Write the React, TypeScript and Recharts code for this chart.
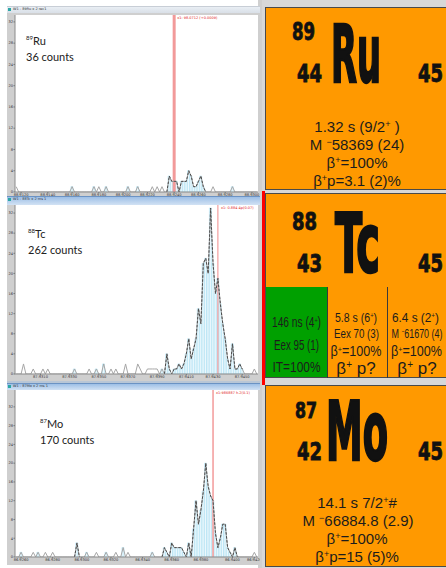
import React from 'react';
import { ComposedChart, Bar, Line, XAxis, YAxis, CartesianGrid, ReferenceLine } from 'recharts';

// ---------- data ----------
const ruCounts = [
  1,0,0,0,0,0,0,0,0,0,
  0,0,0,0,0,0,0,0,0,0,
  0,0,0,1,0,0,0,0,0,0,
  0,0,1,0,1,0,0,1,0,0,
  0,0,0,0,0,0,1,0,0,0,
  1,0,0,0,0,0,1,0,1,0,
  1,0,0,3,2,2,2,0,2,2,
  2,4,3,1,1,2,3,1,0,0,
  0,1,0,0,0,0,0,0,0,1,
  0,0,0,0,0,0,0,0,0,0,
];
const tcCounts = [
  0,0,0,2,0,0,0,1,0,0,
  0,1,0,1,0,0,0,0,0,0,
  0,0,0,0,1,0,0,0,0,0,
  1,0,0,1,0,0,2,0,0,1,
  0,1,0,0,0,2,0,0,0,0,
  2,1,0,0,1,1,1,1,1,0,
  1,0,4,1,0,1,1,2,1,2,
  4,7,3,5,7,13,10,22,23,20,
  33,22,16,19,14,10,7,3,1,6,
  1,1,2,1,0,0,0,0,1,0,
];
const moCounts = [
  0,0,1,0,0,0,0,1,0,1,
  0,0,1,0,0,1,0,0,0,0,
  0,0,0,0,0,3,0,0,0,1,
  0,0,0,1,0,0,0,1,0,0,
  0,1,0,0,2,0,1,0,0,0,
  0,0,0,0,0,0,1,0,0,0,
  0,2,1,0,3,2,2,2,2,1,
  0,3,0,6,12,7,10,14,20,15,
  13,12,5,2,4,7,7,2,1,0,
  2,0,0,0,0,0,0,0,1,0,
];

const ruDashedSpans: [number, number][] = [[62, 78]];
const tcDashedSpans: [number, number][] = [[61, 93]];
const moDashedSpans: [number, number][] = [[24, 26], [60, 92]];

const ruBlueBins = [23, 32, 37, 46, 50, 89];
const tcBlueBins = [24, 33, 36, 60];
const moBlueBins = [2, 9, 29, 37, 44, 56];

const ruMarkerBin = 65;
const tcMarkerBin = 83;
const moMarkerBin = 81;
const ruMarkerText = 'x1: 98.0712 (+0.0009)';
const tcMarkerText = 'x1: 0.884 4p(0.07)';
const moMarkerText = 'x1:986887 h.2(0.1)';

const yTicks = [0, 4, 8, 12, 16, 20, 24, 28, 32];
const ruXTicks = [2, 13, 23, 34, 44, 54, 65, 75, 86, 97];
const ruXLabels = ['88.9120', '88.9140', '88.9160', '88.9180', '88.9200', '88.9220', '88.9240', '88.9260', '88.9280', '88.9300'];
const tcXTicks = [10, 22, 34, 46, 58, 70, 81, 93];
const tcXLabels = ['87.9310', '87.9330', '87.9350', '87.9370', '87.9390', '87.9410', '87.9430', '87.9450'];
const moXTicks = [2, 15, 27, 39, 52, 64, 76, 89, 98];
const moXLabels = ['86.9260', '86.9280', '86.9300', '86.9320', '86.9340', '86.9360', '86.9380', '86.9400', '86.9420'];

// ---------- helpers ----------
function buildRows(counts: number[], spans: [number, number][], blue: number[]) {
  return counts.map((c, i) => {
    const inSpan = spans.some(([a, b]) => i >= a && i <= b);
    return { bin: i, all: c, gated: inSpan ? c : null, bar: inSpan || blue.includes(i) ? c : 0 };
  });
}

function Histogram(props: any) {
  const { data, xTicks, xLabels, yTop, marker, markerColor, markerWidth, markerText, width, height, xAxisHeight, marginTop } = props;
  return (
    <ComposedChart width={width} height={height} data={data}
      margin={{ top: marginTop, right: 2, bottom: 0, left: 0 }} barCategoryGap={0} barGap={0}>
      <CartesianGrid horizontal={false} vertical={false} fill="#ffffff" />
      <XAxis dataKey="bin" ticks={xTicks} interval={0} height={xAxisHeight} tickSize={1.5} tickMargin={0}
        tickLine={{ stroke: '#777' }} axisLine={{ stroke: '#8a8a8a' }}
        tick={{ fontSize: 3.6, fill: '#333', fontFamily: 'DejaVu Sans' }}
        tickFormatter={(v: number) => xLabels[xTicks.indexOf(v)] ?? ''} />
      <YAxis type="number" domain={[0, yTop]} ticks={yTicks} interval={0} width={8} tickSize={1.5} tickMargin={0.5}
        allowDataOverflow tickLine={{ stroke: '#777' }} axisLine={{ stroke: '#8a8a8a' }}
        tick={{ fontSize: 3.6, fill: '#333', fontFamily: 'DejaVu Sans' }} />
      <Bar dataKey="bar" fill="#eef9fd" stroke="#9fdaf0" strokeWidth={0.5} isAnimationActive={false} />
      <ReferenceLine x={marker} stroke={markerColor} strokeWidth={markerWidth}
        label={(p: any) => (
          <text x={p.viewBox.x + 3} y={p.viewBox.y + 4} fontSize={3.5} fill="#e02020" fontFamily="DejaVu Sans">{markerText}</text>
        )} />
      <Line dataKey="all" type="linear" stroke="#a6a6a6" strokeWidth={1} dot={false} isAnimationActive={false} />
      <Line dataKey="gated" type="linear" stroke="#4a4a4a" strokeWidth={1} strokeDasharray="2.5 1.5" dot={false}
        connectNulls={false} isAnimationActive={false} />
    </ComposedChart>
  );
}

function TitleBar({ top, height, text, blue }: { top: number; height: number; text: string; blue: boolean }) {
  return (
    <div style={{
      position: 'absolute', left: 7, top, width: 253, height,
      background: blue ? 'linear-gradient(#9dbfe6, #d2e2f4)' : 'linear-gradient(#e9eef4, #d9dfe7)',
      borderTop: blue ? '1px solid #6b93c4' : '1px solid #c8ced6', boxSizing: 'border-box',
    }}>
      <div style={{ position: 'absolute', left: 1, top: 1, width: 3, height: 3, background: '#2aa6a6' }} />
      <div style={{ position: 'absolute', left: 6, top: 0, fontSize: 3.5, lineHeight: '5px', color: '#333', fontFamily: 'DejaVu Sans', whiteSpace: 'nowrap' }}>{text}</div>
    </div>
  );
}

const big: any = { fontFamily: 'DejaVu Sans Condensed, DejaVu Sans', fontWeight: 'bold', fill: '#111', stroke: '#111', lengthAdjust: 'spacingAndGlyphs' };
const info: any = { fontFamily: 'Liberation Sans, Arial', fontSize: 15, fill: '#1c1c1c', textAnchor: 'middle' };
const narrow: any = { fontFamily: 'Liberation Sans Narrow, Liberation Sans', fontSize: 15, fill: '#1c1c1c', textAnchor: 'middle', lengthAdjust: 'spacingAndGlyphs' };
const lab: any = { fontFamily: 'Lato', fill: '#222' };

function Sup({ s, size = 9, d = 5 }: { s: string; size?: number; d?: number }) {
  return <tspan dy={-d} fontSize={size}>{s}</tspan>;
}

export default function App() {
  const ruData = buildRows(ruCounts, ruDashedSpans, ruBlueBins);
  const tcData = buildRows(tcCounts, tcDashedSpans, tcBlueBins);
  const moData = buildRows(moCounts, moDashedSpans, moBlueBins);
  return (
    <div style={{ position: 'fixed', left: 0, top: 0, width: 446, height: 568, background: '#fff', overflow: 'hidden' }}>
      <div style={{ position: 'absolute', left: 258, top: 0, width: 4, height: 568, background: '#d0d0d0' }} />

      <TitleBar top={6} height={7} text="W1 - 89Ru x 2 rec1" blue={false} />
      <div style={{ position: 'absolute', left: 7, top: 13, width: 253, height: 184, background: '#cfcfcf' }}>
        <Histogram data={ruData} xTicks={ruXTicks} xLabels={ruXLabels} yTop={33.3} marker={ruMarkerBin}
          markerColor="#f29a9a" markerWidth={3} markerText={ruMarkerText}
          width={253} height={184} xAxisHeight={5} marginTop={2} />
      </div>

      <TitleBar top={196} height={9} text="W1 - 88Tc x 2 ms 1" blue={true} />
      <div style={{ position: 'absolute', left: 7, top: 205, width: 253, height: 176, background: '#cfcfcf' }}>
        <Histogram data={tcData} xTicks={tcXTicks} xLabels={tcXLabels} yTop={33.6} marker={tcMarkerBin}
          markerColor="#f08a8a" markerWidth={1} markerText={tcMarkerText}
          width={253} height={176} xAxisHeight={7} marginTop={0} />
      </div>

      <div style={{ position: 'absolute', left: 7, top: 381, width: 253, height: 3, background: '#b8c6d6' }} />
      <TitleBar top={383} height={7} text="W1 - 87Mo x 2 ms 1" blue={true} />
      <div style={{ position: 'absolute', left: 7, top: 390, width: 253, height: 175, background: '#cfcfcf' }}>
        <Histogram data={moData} xTicks={moXTicks} xLabels={moXLabels} yTop={35.6} marker={moMarkerBin}
          markerColor="#f4a0a0" markerWidth={1.6} markerText={moMarkerText}
          width={253} height={175} xAxisHeight={8} marginTop={0} />
      </div>

      <svg width={446} height={568} style={{ position: 'absolute', left: 0, top: 0, pointerEvents: 'none' }}>
        {/* left panel labels */}
        <text x={26} y={40} fontSize={6} {...lab}>89</text>
        <text x={33} y={45} fontSize={11} {...lab}>Ru</text>
        <text x={26} y={61} fontSize={11} {...lab}>36 counts</text>
        <text x={28} y={233} fontSize={6} {...lab}>88</text>
        <text x={35} y={238} fontSize={11} {...lab}>Tc</text>
        <text x={28} y={254} fontSize={11} {...lab}>262 counts</text>
        <text x={40} y={423} fontSize={6} {...lab}>87</text>
        <text x={47} y={428} fontSize={11} {...lab}>Mo</text>
        <text x={40} y={444} fontSize={11} {...lab}>170 counts</text>

        {/* right column */}
        <rect x={262} y={0} width={184} height={568} fill="#d8d8d8" />
        <rect x={262} y={191} width={3} height={194} fill="#ff0000" />

        {/* Ru card */}
        <rect x={265.5} y={7.5} width={190} height={182} fill="#ff9900" stroke="#4a4a4a" strokeWidth={1} />
        <text x={292} y={40} fontSize={24} textLength={23} strokeWidth={0.8} {...big}>89</text>
        <text x={297} y={82} fontSize={24} textLength={25} strokeWidth={0.8} {...big}>44</text>
        <text x={331} y={82} fontSize={81} textLength={50} strokeWidth={2.5} {...big}>Ru</text>
        <text x={418} y={82} fontSize={24} textLength={25} strokeWidth={0.8} {...big}>45</text>
        <text x={357} y={132} {...info}>1.32 s  (9/2<Sup s="+" /><tspan dy={5}> )</tspan></text>
        <text x={357} y={150} {...info}>M <Sup s="−" /><tspan dy={5}>58369 (24)</tspan></text>
        <text x={357} y={168} {...info}>β<Sup s="+" /><tspan dy={5}>=100%</tspan></text>
        <text x={357} y={186} {...info}>β<Sup s="+" /><tspan dy={5}>p=3.1 (2)%</tspan></text>

        {/* Tc card */}
        <rect x={265.5} y={193.5} width={190} height={184} fill="#ff9900" stroke="#4a4a4a" strokeWidth={1} />
        <text x={292} y={230} fontSize={25} textLength={25} strokeWidth={0.8} {...big}>88</text>
        <text x={297} y={272} fontSize={24} textLength={25} strokeWidth={0.8} {...big}>43</text>
        <text x={335} y={272} fontSize={82} textLength={45} strokeWidth={2.5} {...big}>Tc</text>
        <text x={418} y={272} fontSize={24} textLength={25} strokeWidth={0.8} {...big}>45</text>
        <rect x={266} y={287} width={61} height={90} fill="#00a000" />
        <line x1={327.5} y1={287} x2={327.5} y2={378} stroke="#3a3a3a" strokeWidth={1} />
        <line x1={387.5} y1={287} x2={387.5} y2={378} stroke="#3a3a3a" strokeWidth={1} />
        <text x={296.5} y={327} textLength={49} {...narrow} fontSize={15}>146 ns (4<Sup s="+" size={8} d={4} /><tspan dy={4}>)</tspan></text>
        <text x={296.5} y={350} textLength={45} {...narrow} fontSize={15}>Eex 95 (1)</text>
        <text x={296.5} y={372} textLength={48} {...narrow} fontSize={15}>IT=100%</text>
        <text x={356} y={322} textLength={42} {...narrow} fontSize={13}>5.8 s (6<Sup s="+" size={7} d={4} /><tspan dy={4}>)</tspan></text>
        <text x={356.5} y={338} textLength={45} {...narrow} fontSize={13}>Eex 70 (3)</text>
        <text x={356} y={356} textLength={51} {...narrow} fontSize={14}>β<Sup s="+" size={8} d={4} /><tspan dy={4}>=100%</tspan></text>
        <text x={356} y={374} {...info} fontSize={17}>β<Sup s="+" size={10} d={6} /><tspan dy={6}> p?</tspan></text>
        <text x={415.5} y={322} textLength={47} {...narrow} fontSize={13}>6.4 s  (2<Sup s="+" size={7} d={4} /><tspan dy={4}>)</tspan></text>
        <text x={417} y={338} textLength={51} {...narrow} fontSize={13}>M <Sup s="−" size={7} d={4} /><tspan dy={4}>61670 (4)</tspan></text>
        <text x={416.5} y={356} textLength={51} {...narrow} fontSize={14}>β<Sup s="+" size={8} d={4} /><tspan dy={4}>=100%</tspan></text>
        <text x={417} y={374} {...info} fontSize={17}>β<Sup s="+" size={10} d={6} /><tspan dy={6}> p?</tspan></text>

        {/* Mo card */}
        <rect x={265.5} y={385.5} width={190} height={181} fill="#ff9900" stroke="#4a4a4a" strokeWidth={1} />
        <text x={295} y={418} fontSize={21} textLength={22} strokeWidth={0.8} {...big}>87</text>
        <text x={297} y={460} fontSize={24} textLength={25} strokeWidth={0.8} {...big}>42</text>
        <text x={326} y={460} fontSize={82} textLength={62} strokeWidth={2.5} {...big}>Mo</text>
        <text x={418} y={460} fontSize={24} textLength={25} strokeWidth={0.8} {...big}>45</text>
        <text x={357} y={508} {...info}>14.1 s  7/2<Sup s="+" /><tspan dy={5}>#</tspan></text>
        <text x={358} y={526} {...info}>M <Sup s="−" /><tspan dy={5}>66884.8 (2.9)</tspan></text>
        <text x={357} y={544} {...info}>β<Sup s="+" /><tspan dy={5}>=100%</tspan></text>
        <text x={357} y={562} {...info}>β<Sup s="+" /><tspan dy={5}>p=15 (5)%</tspan></text>
      </svg>
    </div>
  );
}
